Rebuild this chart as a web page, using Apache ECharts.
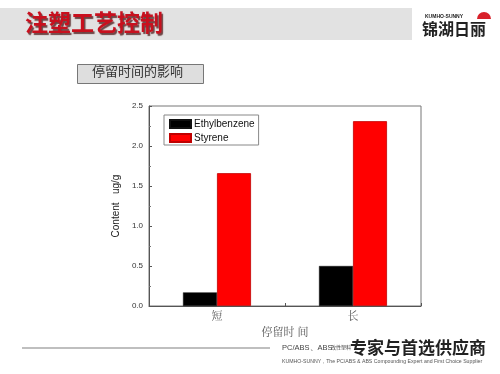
<!DOCTYPE html>
<html><head><meta charset="utf-8">
<script src="https://cdn.jsdelivr.net/npm/echarts@6/dist/echarts.min.js"></script>
<style>html,body{margin:0;padding:0;background:#fff}#c{width:500px;height:374px}</style>
</head><body><div id="c"></div>
<script>
const categories = ['短', '长'];
const ethylbenzene = [0.17, 0.5];
const styrene = [1.66, 2.31];
const yTicks = [0, 0.5, 1.0, 1.5, 2.0, 2.5];

const chart = echarts.init(document.getElementById('c'), null, {renderer: 'canvas'});
const cjk = '"Noto Sans CJK SC", sans-serif';
chart.setOption({
  animation: false,
  backgroundColor: '#fff',
  grid: {left: 149, right: 79, top: 106, bottom: 68, show: true, borderColor: '#777', borderWidth: 1, backgroundColor: 'transparent'},
  legend: {
    show: true, left: 164, top: 115, orient: 'vertical', itemWidth: 21, itemHeight: 8, itemGap: 4,
    padding: [4, 4, 2, 5], borderColor: '#888', borderWidth: 1, backgroundColor: '#fff',
    textStyle: {fontFamily: 'Liberation Sans, Arial', fontSize: 10, lineHeight: 10, color: '#111', padding: [0, 0, 0, -2]},
    icon: 'rect',
    data: ['Ethylbenzene', 'Styrene']
  },
  xAxis: {
    type: 'category', data: categories,
    name: '停留时 间', nameLocation: 'middle', nameGap: 18,
    nameTextStyle: {fontFamily: '"Noto Serif CJK SC", "Noto Sans CJK SC", serif', fontSize: 11, color: '#555'},
    axisLine: {lineStyle: {color: '#555', width: 1}},
    axisTick: {show: true, inside: true, length: 3, lineStyle: {color: '#555'}},
    axisLabel: {fontFamily: '"Noto Serif CJK SC", "Noto Sans CJK SC", serif', fontSize: 11, color: '#555', margin: 4}
  },
  yAxis: {
    type: 'value', min: 0, max: 2.5, interval: 0.5,
    name: 'Content   ug/g', nameLocation: 'middle', nameGap: 17,
    nameTextStyle: {fontFamily: 'Liberation Sans, Arial', fontSize: 10, color: '#222'},
    axisLine: {show: true, lineStyle: {color: '#555', width: 1}},
    axisTick: {show: true, inside: true, length: 3, lineStyle: {color: '#555'}},
    minorTick: {show: true, splitNumber: 2, length: 2, lineStyle: {color: '#777'}},
    splitLine: {show: false},
    axisLabel: {fontFamily: 'Liberation Sans, Arial', fontSize: 8, color: '#333', margin: 6,
      formatter: v => v.toFixed(1)}
  },
  series: [
    {name: 'Ethylbenzene', type: 'bar', data: ethylbenzene, barWidth: 34, barGap: '0%',
     itemStyle: {color: '#000', borderColor: '#111', borderWidth: 0.5}},
    {name: 'Styrene', type: 'bar', data: styrene, barWidth: 34,
     itemStyle: {color: '#ff0000', borderColor: '#c00000', borderWidth: 0.8}}
  ],
  graphic: [
    {type: 'rect', shape: {x: 0, y: 8, width: 412, height: 32}, style: {fill: '#e2e2e2'}, silent: true},
    {type: 'text', left: 25, top: 11, style: {text: '注塑工艺控制', font: 'bold 23px ' + cjk, fill: '#c8101e',
      textShadowColor: 'rgba(60,0,0,0.7)', textShadowOffsetX: 1.5, textShadowOffsetY: 1.5, textShadowBlur: 1}},
    {type: 'text', left: 425, top: 14, style: {text: 'KUMHO-SUNNY', font: 'bold 5px Liberation Sans, Arial', fill: '#222'}},
    {type: 'sector', shape: {cx: 484, cy: 19, r: 7, r0: 0, startAngle: Math.PI, endAngle: 2 * Math.PI}, style: {fill: '#d8202a'}},
    {type: 'text', left: 422, top: 21, style: {text: '锦湖日丽', font: 'bold 16px ' + cjk, fill: '#222'}},
    {type: 'rect', shape: {x: 77.5, y: 64.5, width: 126, height: 19}, style: {fill: '#dedede', stroke: '#777', lineWidth: 1}},
    {type: 'text', left: 92, top: 65, style: {text: '停留时间的影响', font: '13px ' + cjk, fill: '#333'}},
    {type: 'line', shape: {x1: 22, y1: 348, x2: 270, y2: 348}, style: {stroke: '#aaa', lineWidth: 1.5}},
    {type: 'text', left: 282, top: 344, style: {text: 'PC/ABS、ABS', font: '7.5px Liberation Sans, Arial', fill: '#444'}},
    {type: 'text', left: 331, top: 345, style: {text: '改性塑料', font: '5px ' + cjk, fill: '#444'}},
    {type: 'text', left: 350, top: 339, style: {text: '专家与首选供应商', font: 'bold 17px ' + cjk, fill: '#222'}},
    {type: 'text', left: 282, top: 359, style: {text: 'KUMHO-SUNNY，The PC/ABS & ABS Compounding Expert and First Choice Supplier', font: '5.2px Liberation Sans, Arial', fill: '#555'}}
  ]
});
</script></body></html>
